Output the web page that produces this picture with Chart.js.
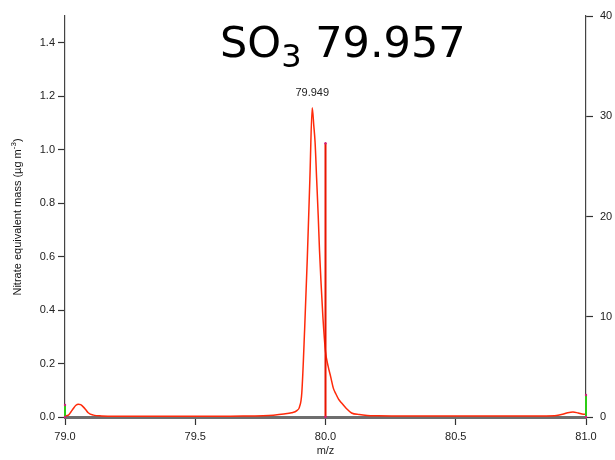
<!DOCTYPE html>
<html>
<head>
<meta charset="utf-8">
<title>SO3 79.957</title>
<script src="https://cdn.jsdelivr.net/npm/chart.js@4.4.1/dist/chart.umd.min.js"></script>
<style>
    body { margin: 0; background: #fff; }
    #grafico { display: block; }
</style>
</head>
<body>
<canvas id="grafico" width="615" height="460"></canvas>
<script>
// m/z axis of the high resolution fit and its signal (left axis)
const mzValues = [
    79.000, 79.013, 79.022, 79.032, 79.042, 79.051, 79.060, 79.070, 79.080, 79.089,
    79.109, 79.140, 79.200, 79.300, 79.400, 79.500, 79.600, 79.700, 79.760, 79.800,
    79.840, 79.870, 79.890, 79.900, 79.909, 79.920, 79.930, 79.940, 79.949, 79.955,
    79.960, 79.966, 79.972, 79.977, 79.983, 79.990, 80.000, 80.010, 80.020, 80.030,
    80.040, 80.050, 80.062, 80.080, 80.100, 80.130, 80.160, 80.200, 80.300, 80.400,
    80.500, 80.600, 80.700, 80.800, 80.880, 80.910, 80.930, 80.950, 80.970, 80.990,
    81.000
];
const massValues = [
    0.004, 0.007, 0.018, 0.032, 0.044, 0.048, 0.046, 0.038, 0.027, 0.016,
    0.007, 0.004, 0.003, 0.003, 0.003, 0.003, 0.003, 0.004, 0.005, 0.007,
    0.011, 0.016, 0.024, 0.037, 0.090, 0.330, 0.590, 0.890, 1.157, 1.090,
    1.028, 0.890, 0.754, 0.623, 0.500, 0.374, 0.245, 0.190, 0.150, 0.108,
    0.086, 0.067, 0.052, 0.032, 0.015, 0.009, 0.006, 0.005, 0.004, 0.004,
    0.004, 0.004, 0.004, 0.004, 0.005, 0.010, 0.016, 0.019, 0.015, 0.010,
    0.010
];

// unit mass sticks (right axis)
const stickMz = [79.0, 80.0, 81.0];
const stickSignal = [1.2, 27.3, 2.2];
const stickColors = ['#2ccc14', '#e81400', '#2ccc14'];

const xTicks = [79.0, 79.5, 80.0, 80.5, 81.0];
const leftTicks = [0, 0.2, 0.4, 0.6, 0.8, 1.0, 1.2, 1.4];
const rightTicks = [0, 10, 20, 30, 40];

const fuente = '"Liberation Sans", Arial, sans-serif';

function fijarTicks(valores) {
    return function(scale) {
        scale.ticks = valores.map(v => ({ value: v }));
    };
}

// big formula title with subscript
const tituloPlugin = {
    id: 'tituloFormula',
    afterDraw(chart) {
        const ctx = chart.ctx;
        ctx.save();
        ctx.fillStyle = '#000';
        ctx.textBaseline = 'alphabetic';
        let x = 220;
        ctx.font = '43px "DejaVu Sans"';
        ctx.fillText('SO', x, 57);
        x += ctx.measureText('SO').width;
        ctx.font = '32px "DejaVu Sans"';
        ctx.fillText('3', x, 67);
        x += ctx.measureText('3').width;
        ctx.font = '43px "DejaVu Sans"';
        ctx.fillText(' 79.957', x, 57);
        ctx.restore();
    }
};

// rotated left axis title, with superscript exponent
const tituloEjePlugin = {
    id: 'tituloEje',
    afterDraw(chart) {
        const ctx = chart.ctx;
        const partes = ['Nitrate equivalent mass (\u00b5g m', '-3', ')'];
        ctx.save();
        ctx.translate(21, 217);
        ctx.rotate(-Math.PI / 2);
        ctx.fillStyle = '#111';
        ctx.textBaseline = 'alphabetic';
        ctx.font = '11px ' + fuente;
        let w0 = ctx.measureText(partes[0]).width;
        let w2 = ctx.measureText(partes[2]).width;
        ctx.font = '8px ' + fuente;
        let w1 = ctx.measureText(partes[1]).width;
        let x = -(w0 + w1 + w2) / 2;
        ctx.font = '11px ' + fuente;
        ctx.fillText(partes[0], x, 0);
        ctx.font = '8px ' + fuente;
        ctx.fillText(partes[1], x + w0, -5);
        ctx.font = '11px ' + fuente;
        ctx.fillText(partes[2], x + w0 + w1, 0);
        ctx.restore();
    }
};

// label with the m/z of the highest point of the fit
const picoPlugin = {
    id: 'etiquetaPico',
    afterDatasetsDraw(chart) {
        let iMax = 0;
        massValues.forEach((v, i) => { if (v > massValues[iMax]) iMax = i; });
        const px = chart.scales.x.getPixelForValue(mzValues[iMax]);
        const py = chart.scales.y.getPixelForValue(massValues[iMax]);
        const ctx = chart.ctx;
        ctx.save();
        ctx.font = '11px ' + fuente;
        ctx.fillStyle = '#222';
        ctx.textAlign = 'center';
        ctx.textBaseline = 'middle';
        ctx.fillText(mzValues[iMax].toFixed(3), px, py - 15);
        ctx.restore();
    }
};

document.addEventListener('DOMContentLoaded', function() {
    const ctx = document.getElementById('grafico').getContext('2d');

    let sticks = stickMz.map((m, i) => ({
        data: [{ x: m, y: 0 }, { x: m, y: stickSignal[i] }],
        yAxisID: 'y2',
        borderColor: stickColors[i],
        borderWidth: 2,
        pointRadius: 1.2,
        pointBorderWidth: 0,
        pointBackgroundColor: '#d0207c',
        clip: 6
    }));

    let ajuste = {
        data: mzValues.map((m, i) => ({ x: m, y: massValues[i] })),
        yAxisID: 'y',
        borderColor: '#ff2a0a',
        borderWidth: 1.5,
        pointRadius: 0,
        cubicInterpolationMode: 'monotone'
    };

    new Chart(ctx, {
        type: 'line',
        data: { datasets: sticks.concat([ajuste]) },
        options: {
            responsive: false,
            animation: false,
            devicePixelRatio: 1,
            layout: { padding: { top: 16, left: 0, right: 0, bottom: 0 } },
            plugins: {
                legend: { display: false },
                tooltip: { enabled: false }
            },
            scales: {
                x: {
                    type: 'linear',
                    position: 'bottom',
                    min: 79,
                    max: 81,
                    afterBuildTicks: fijarTicks(xTicks),
                    afterFit: scale => { scale.height = 43; },
                    grid: { drawOnChartArea: false, tickLength: 8, tickColor: '#333', tickWidth: 1.2 },
                    border: { color: '#6e6e6e', width: 3 },
                    ticks: {
                        padding: 5,
                        color: '#222',
                        font: { family: fuente, size: 11 },
                        maxRotation: 0,
                        callback: v => v.toFixed(1)
                    },
                    title: {
                        display: true,
                        text: 'm/z',
                        color: '#222',
                        font: { family: fuente, size: 11 },
                        padding: { top: 0, bottom: 2 }
                    }
                },
                y: {
                    position: 'left',
                    min: 0,
                    max: 1.5,
                    afterBuildTicks: fijarTicks(leftTicks),
                    afterFit: scale => { scale.width = 65; },
                    grid: { drawOnChartArea: false, tickLength: 7, tickColor: '#333', tickWidth: 1.2 },
                    border: { color: '#444', width: 1.2 },
                    ticks: {
                        padding: 3,
                        color: '#222',
                        font: { family: fuente, size: 11 },
                        callback: v => v.toFixed(1)
                    }
                },
                y2: {
                    position: 'right',
                    min: 0,
                    max: 40,
                    afterBuildTicks: fijarTicks(rightTicks),
                    afterFit: scale => { scale.width = 29; },
                    grid: { drawOnChartArea: false, tickLength: 7, tickColor: '#333', tickWidth: 1.2 },
                    border: { color: '#444', width: 1.2 },
                    ticks: {
                        padding: 7,
                        color: '#222',
                        font: { family: fuente, size: 11 },
                        callback: v => String(v)
                    }
                }
            }
        },
        plugins: [tituloPlugin, tituloEjePlugin, picoPlugin]
    });
});
</script>
</body>
</html>
